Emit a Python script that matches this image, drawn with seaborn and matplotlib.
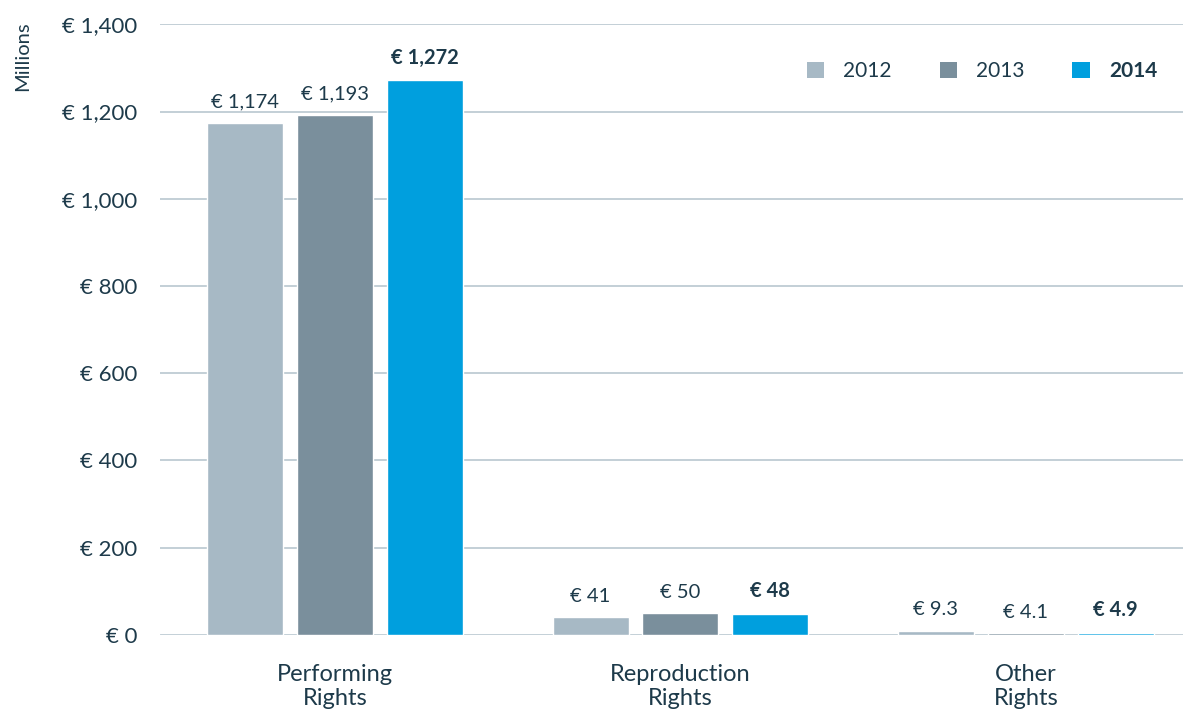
import matplotlib
matplotlib.use("Agg")
import matplotlib.pyplot as plt
import seaborn as sns
import pandas as pd
from matplotlib.patches import Patch

categories = ["Performing\nRights", "Reproduction\nRights", "Other\nRights"]
years = ["2012", "2013", "2014"]
values_2012 = [1174, 41, 9.3]
values_2013 = [1193, 50, 4.1]
values_2014 = [1272, 48, 4.9]
label_2012 = ["€ 1,174", "€ 41", "€ 9.3"]
label_2013 = ["€ 1,193", "€ 50", "€ 4.1"]
label_2014 = ["€ 1,272", "€ 48", "€ 4.9"]
yticks = [0, 200, 400, 600, 800, 1000, 1200, 1400]
ytick_labels = ["€ 0", "€ 200", "€ 400", "€ 600", "€ 800", "€ 1,000", "€ 1,200", "€ 1,400"]

colors = {"2012": "#a7b9c5", "2013": "#7a8f9c", "2014": "#009fde"}
text_color = "#1d3a4a"
grid_color = "#b3c2cc"

rows = []
for y, vals in zip(years, [values_2012, values_2013, values_2014]):
    for c, v in zip(categories, vals):
        rows.append({"category": c, "year": y, "value": v})
df = pd.DataFrame(rows)

sns.set_theme(style="white")
plt.rcParams["font.family"] = ["Lato", "DejaVu Sans"]

fig = plt.figure(figsize=(11.83, 7.15), dpi=100)
ax = fig.add_axes([0.135, 0.112, 0.865, 0.854])

sns.barplot(data=df, x="category", y="value", hue="year", palette=colors,
            order=categories, hue_order=years, width=0.78, gap=0.154,
            saturation=1, ax=ax, legend=False, zorder=3)

ax.set_ylim(0, 1400)
ax.set_xlim(-0.507, 2.455)
ax.set_yticks(yticks)
ax.set_yticklabels(ytick_labels, color=text_color, fontsize=16)
ax.tick_params(axis="y", length=0, pad=16)
ax.tick_params(axis="x", length=0, pad=21, labelsize=17, colors=text_color)
for lab in ax.get_xticklabels():
    lab.set_linespacing(1.2)
ax.set_xlabel("")
ax.set_ylabel("")
for y in yticks:
    ax.axhline(y, color=grid_color, lw=1.1 if y else 1.8, zorder=1)
for s in ax.spines.values():
    s.set_visible(False)

for cont, labels, yr in zip(ax.containers, [label_2012, label_2013, label_2014], years):
    ax.bar_label(cont, labels=labels, padding=9, color=text_color,
                 fontsize=14.5,
                 fontweight="bold" if yr == "2014" else "normal")

handles = [Patch(facecolor=colors[y], edgecolor="none") for y in years]
leg = ax.legend(handles, years, loc="upper right", bbox_to_anchor=(0.993, 0.97),
                ncol=3, frameon=False, fontsize=15, handlelength=0.85, handleheight=0.85,
                handletextpad=0.9, columnspacing=2.3)
for t, y in zip(leg.get_texts(), years):
    t.set_color(text_color)
    if y == "2014":
        t.set_fontweight("bold")

fig.text(0.019, 0.922, "Millions", rotation=90, ha="center", va="center",
         color=text_color, fontsize=14.5)

fig.savefig("out.png", dpi=100)
